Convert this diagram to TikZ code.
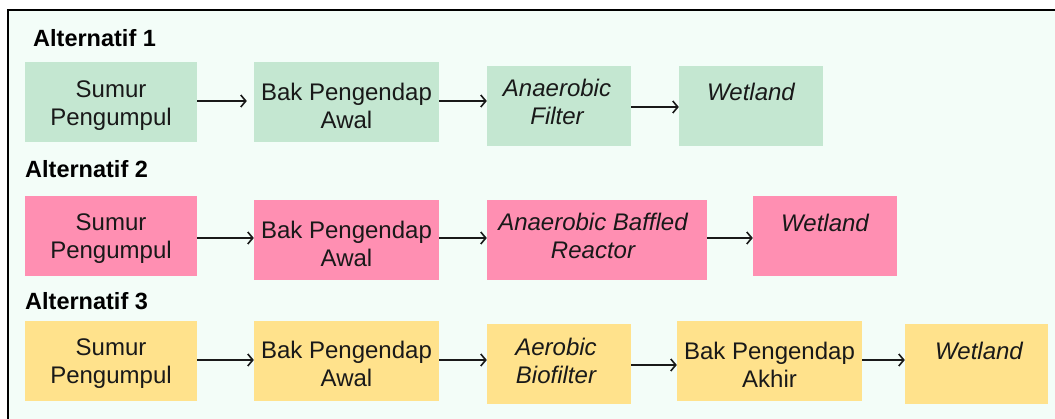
\documentclass[tikz,border=0pt]{standalone}
\usepackage{fontspec}
\setmainfont{Liberation Sans}
\usetikzlibrary{arrows.meta}
\definecolor{pagebg}{RGB}{243,253,248}
\definecolor{greenbox}{RGB}{196,231,209}
\definecolor{pinkbox}{RGB}{255,143,178}
\definecolor{yellowbox}{RGB}{255,226,140}
\definecolor{inkc}{RGB}{25,25,25}
\begin{document}
\begin{tikzpicture}[x=1pt,y=-1pt,
  procbox/.style={inner sep=0pt, draw=none},
  boxtext/.style={inner sep=0pt, align=center, text=inkc,
    font=\fontsize{24}{28}\selectfont},
  title/.style={anchor=base west, inner sep=0pt, text=black,
    font=\fontsize{23.5}{28}\selectfont\bfseries},
  flow/.style={-{Straight Barb[length=5pt,width=12pt]}, line width=1.6pt, draw=inkc}]
  % canvas and frame
  \useasboundingbox (0,0) rectangle (1055,419);
  \fill[white] (0,0) rectangle (1055,419);
  \fill[pagebg] (8,10) rectangle (1055,419);
  \draw[line width=2pt, black] (8,419) -- (8,10) -- (1055,10);

  % ---------- Alternatif 1 ----------
  \node[title] (t1) at (33,47) {Alternatif 1};
  \node[procbox, fill=greenbox, minimum width=172, minimum height=80] (a1) at (111,102) {};
  \node[procbox, fill=greenbox, minimum width=185, minimum height=80] (b1) at (346.5,102) {};
  \node[procbox, fill=greenbox, minimum width=144, minimum height=80] (c1) at (559,106) {};
  \node[procbox, fill=greenbox, minimum width=144, minimum height=80] (d1) at (751,106) {};
  \node[boxtext] (a1t) at (111,106) {Sumur\\Pengumpul};
  \node[boxtext] (b1t) at (346.5,106) {Bak Pengendap\\Awal};
  \node[boxtext] (c1t) at (557,102) {\itshape Anaerobic\\\itshape Filter};
  \node[boxtext] (d1t) at (751,106) {\itshape Wetland\\\mbox{}};
  \draw[flow, shorten >=7pt] ([yshift=1pt]a1.east) -- ([yshift=1pt]a1.east -| b1.west);
  \draw[flow] ([yshift=1pt]b1.east) -- ([yshift=1pt]b1.east -| c1.west);
  \draw[flow] ([yshift=-1pt]c1.east) -- ([yshift=-1pt]c1.east -| d1.west);

  % ---------- Alternatif 2 ----------
  \node[title] (t2) at (25,178) {Alternatif 2};
  \node[procbox, fill=pinkbox, minimum width=172, minimum height=80] (a2) at (111,236) {};
  \node[procbox, fill=pinkbox, minimum width=185, minimum height=80] (b2) at (346.5,240) {};
  \node[procbox, fill=pinkbox, minimum width=220, minimum height=80] (c2) at (597,240) {};
  \node[procbox, fill=pinkbox, minimum width=144, minimum height=80] (d2) at (825,236) {};
  \node[boxtext] (a2t) at (111,239) {Sumur\\Pengumpul};
  \node[boxtext] (b2t) at (346.5,244) {Bak Pengendap\\Awal};
  \node[boxtext] (c2t) at (593,236) {\itshape Anaerobic Baffled\\\itshape Reactor};
  \node[boxtext] (d2t) at (825,237) {\itshape Wetland\\\mbox{}};
  \draw[flow] ([yshift=-2pt]a2.east) -- ([yshift=-2pt]a2.east -| b2.west);
  \draw[flow] ([yshift=2pt]b2.east) -- ([yshift=2pt]b2.east -| c2.west);
  \draw[flow] ([yshift=2pt]c2.east) -- ([yshift=2pt]c2.east -| d2.west);

  % ---------- Alternatif 3 ----------
  \node[title] (t3) at (25,310) {Alternatif 3};
  \node[procbox, fill=yellowbox, minimum width=172, minimum height=80] (a3) at (111,361) {};
  \node[procbox, fill=yellowbox, minimum width=185, minimum height=80] (b3) at (346.5,361) {};
  \node[procbox, fill=yellowbox, minimum width=144, minimum height=80] (c3) at (559,364) {};
  \node[procbox, fill=yellowbox, minimum width=185, minimum height=80] (d3) at (769.5,361) {};
  \node[procbox, fill=yellowbox, minimum width=143, minimum height=80] (e3) at (976.5,364) {};
  \node[boxtext] (a3t) at (111,364) {Sumur\\Pengumpul};
  \node[boxtext] (b3t) at (346.5,364) {Bak Pengendap\\Awal};
  \node[boxtext] (c3t) at (556,361) {\itshape Aerobic\\\itshape Biofilter};
  \node[boxtext] (d3t) at (769.5,365) {Bak Pengendap\\Akhir};
  \node[boxtext] (e3t) at (979,365) {\itshape Wetland\\\mbox{}};
  \draw[flow] ([yshift=1pt]a3.east) -- ([yshift=1pt]a3.east -| b3.west);
  \draw[flow] ([yshift=1pt]b3.east) -- ([yshift=1pt]b3.east -| c3.west);
  \draw[flow] ([yshift=-1pt]c3.east) -- ([yshift=-1pt]c3.east -| d3.west);
  \draw[flow] ([yshift=1pt]d3.east) -- ([yshift=1pt]d3.east -| e3.west);
\end{tikzpicture}
\end{document}
